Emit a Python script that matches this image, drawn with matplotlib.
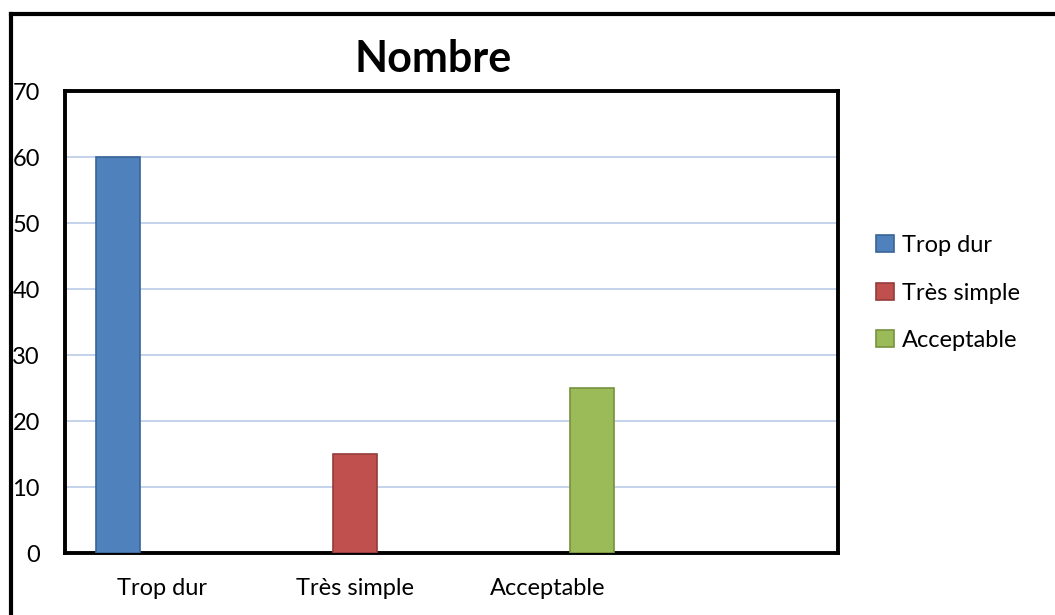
import matplotlib
matplotlib.use("Agg")
import matplotlib.pyplot as plt
import numpy as np
from matplotlib.lines import Line2D

categories = ["Trop dur", "Très simple", "Acceptable", ""]
series_names = ["Trop dur", "Très simple", "Acceptable"]
trop_dur = [60, np.nan, np.nan, np.nan]
tres_simple = [np.nan, 15, np.nan, np.nan]
acceptable = [np.nan, np.nan, 25, np.nan]
y_ticks = [0, 10, 20, 30, 40, 50, 60, 70]

colors = ["#4F81BD", "#C0504D", "#9BBB59"]
edges = ["#3B6597", "#943C3A", "#76923F"]

plt.rcParams["font.family"] = ["Lato", "DejaVu Sans"]

fig = plt.figure(figsize=(10.55, 6.15), dpi=100)
ax = fig.add_axes([65/1055, 1-553/615, (838-65)/1055, (553-91)/615])

x = np.arange(len(categories))
w = 0.228
for i, (vals, name) in enumerate(zip([trop_dur, tres_simple, acceptable], series_names)):
    ax.bar(x + (i-1)*w, vals, w, color=colors[i], edgecolor=edges[i], linewidth=1.2,
           label=name, zorder=3)

ax.set_xlim(-0.5, 3.5)
ax.set_ylim(0, 70)
ax.set_yticks(y_ticks)
ax.set_xticks(x)
ax.set_xticklabels(categories, fontsize=17)
ax.tick_params(axis="y", length=0, pad=18, labelsize=17)
ax.tick_params(axis="x", length=0, pad=18)
for t in ax.get_yticklabels():
    t.set_horizontalalignment("right")
ax.yaxis.grid(True, color="#BFD0E8", linewidth=1.3, zorder=0)
ax.set_axisbelow(True)
for s in ax.spines.values():
    s.set_linewidth(2.8)
    s.set_color("black")

fig.text(433/1055, 1-59/615, "Nombre", fontsize=31, fontweight="bold",
         ha="center", va="center")

fig.legend(loc="center left", bbox_to_anchor=(0.81, 1-293/615), frameon=False,
           fontsize=17, handlelength=0.75, handleheight=0.75, handletextpad=0.35,
           labelspacing=1.12)

fig.add_artist(Line2D([11/1055, 1.0], [1-14/615, 1-14/615], color="black",
                      linewidth=3, transform=fig.transFigure))
fig.add_artist(Line2D([11/1055, 11/1055], [0, 1-14/615], color="black",
                      linewidth=3, transform=fig.transFigure))

fig.savefig("out.png", dpi=100)
